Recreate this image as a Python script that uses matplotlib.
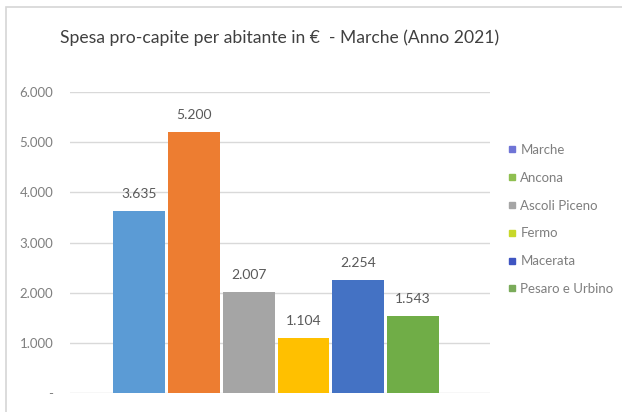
import matplotlib.pyplot as plt
from matplotlib.patches import Rectangle
from matplotlib.lines import Line2D
from matplotlib.ticker import FuncFormatter

plt.rcParams['font.family'] = ['Lato', 'DejaVu Sans']

# data
province = ['Marche', 'Ancona', 'Ascoli Piceno', 'Fermo', 'Macerata', 'Pesaro e Urbino']
spesa = [3635, 5200, 2007, 1104, 2254, 1543]
bar_colors = ['#5b9bd5', '#ed7d31', '#a5a5a5', '#ffc000', '#4472c4', '#70ad47']
legend_colors = ['#6f74d6', '#8fbf50', '#a5a5a5', '#c8d82a', '#3f55c2', '#7aab5a']
yticks = [0, 1000, 2000, 3000, 4000, 5000, 6000]


def it_fmt(v, pos=None):
    if v == 0:
        return '-'
    return f'{int(v):,}'.replace(',', '.')


fig = plt.figure(figsize=(6.22, 4.12), dpi=100)
fig.patch.set_facecolor('white')
# light frame like the Excel chart area
fig.patches.append(Rectangle((6 / 622, -0.02), 1.0, 1 - 7 / 412 + 0.02,
                             transform=fig.transFigure, fill=False,
                             edgecolor='#d6d6d6', linewidth=1.2))

ax = fig.add_axes([70 / 622, 1 - 393 / 412, 420 / 622, (393 - 92) / 412])
x = list(range(len(province)))
bars = ax.bar(x, spesa, width=0.95, color=bar_colors, zorder=3)

for xi, v in zip(x, spesa):
    ax.text(xi, v + 220, it_fmt(v), ha='center', va='bottom',
            fontsize=10, color='#595959')

ax.set_xlim(-1.27, 6.41)
ax.set_ylim(0, 6000)
ax.set_yticks(yticks)
ax.yaxis.set_major_formatter(FuncFormatter(it_fmt))
ax.tick_params(axis='y', length=0, pad=12, labelsize=9.5, labelcolor='#7f7f7f')
ax.set_xticks([])
ax.grid(axis='y', color='#d9d9d9', linewidth=1, zorder=0)
for s in ax.spines.values():
    s.set_visible(False)

fig.text(60 / 622, 1 - 38 / 412, 'Spesa pro-capite per abitante in €  - Marche (Anno 2021)',
         fontsize=12.6, color='#404040', va='center', ha='left')

handles = [Line2D([], [], marker='s', linestyle='none', markersize=4,
                  markerfacecolor=c, markeredgecolor=c) for c in legend_colors]
fig.legend(handles, province, loc='upper left', bbox_to_anchor=(494 / 622, 1 - 132 / 412),
           frameon=False, fontsize=9.5, labelcolor='#7f7f7f', handletextpad=0.1,
           labelspacing=1.2, handlelength=1.0)

fig.savefig('out.png', dpi=100)
